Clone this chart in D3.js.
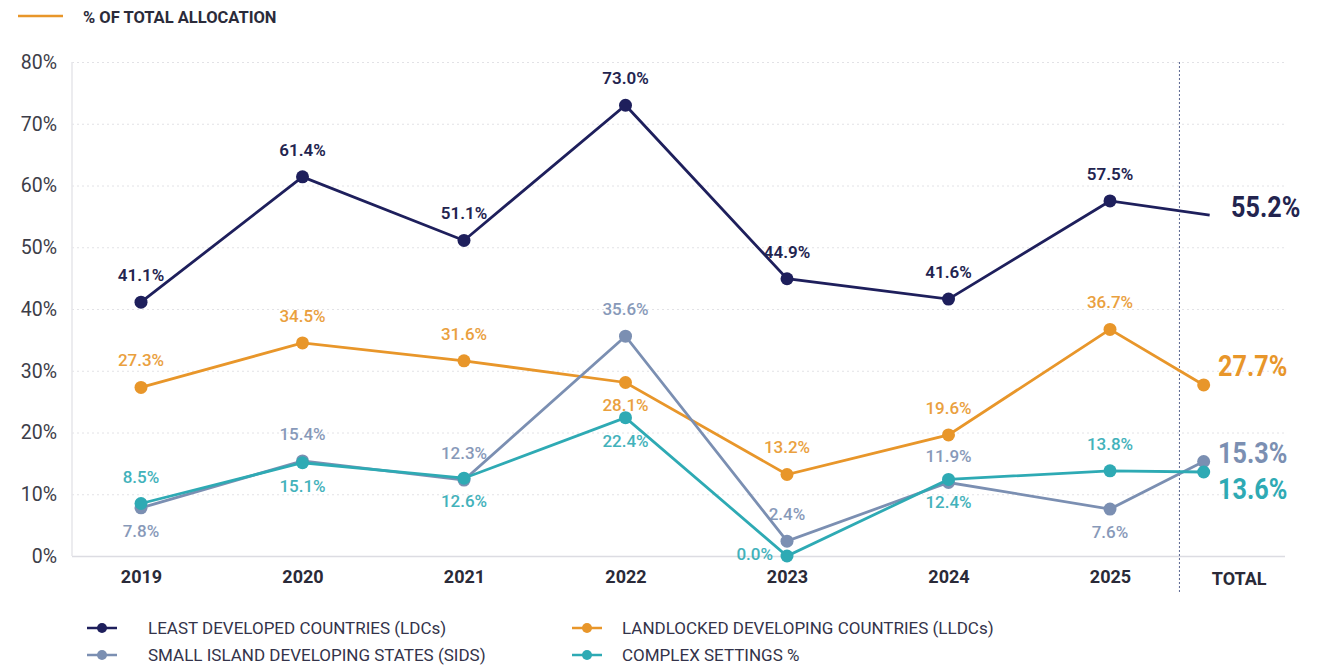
<!DOCTYPE html>
<html>
<head>
<meta charset="utf-8">
<script src="https://cdn.jsdelivr.net/npm/d3@7"></script>
<style>
  body { margin: 0; background: #fff; }
  svg { display: block; font-family: Roboto, "Noto Sans", sans-serif; }
</style>
</head>
<body>
<svg id="chart" width="1342" height="668"></svg>
<script>
const years = ['2019', '2020', '2021', '2022', '2023', '2024', '2025'];
const yTicks = [0, 10, 20, 30, 40, 50, 60, 70, 80];
const seriesNames = [
    'LEAST DEVELOPED COUNTRIES (LDCs)',
    'LANDLOCKED DEVELOPING COUNTRIES (LLDCs)',
    'SMALL ISLAND DEVELOPING STATES (SIDS)',
    'COMPLEX SETTINGS %',
];
const ldc = [41.1, 61.4, 51.1, 73.0, 44.9, 41.6, 57.5];
const lldc = [27.3, 34.5, 31.6, 28.1, 13.2, 19.6, 36.7];
const sids = [7.8, 15.4, 12.3, 35.6, 2.4, 11.9, 7.6];
const complex = [8.5, 15.1, 12.6, 22.4, 0.0, 12.4, 13.8];
const totals = [55.2, 27.7, 15.3, 13.6];

// where each value label sits relative to its point
const labelSide = [
    ['up', 'up', 'up', 'up', 'up', 'up', 'up'],
    ['up', 'up', 'up', 'down', 'up', 'up', 'up'],
    ['down', 'up', 'up', 'up', 'up', 'up', 'down'],
    ['up', 'down', 'down', 'down', 'left', 'down', 'up'],
];
const colors = ['#1e1f5c', '#e8962a', '#7b8fb2', '#2eaab4'];

const seriesValues = [ldc, lldc, sids, complex];

const svg = d3.select('#chart');
const margin = { left: 72, right: 1285, top: 62, bottom: 556 };

const x = d3.scalePoint().domain(years).range([141, 1110]);
const step = x.step();
const xTotalPoint = x('2025') + step * 0.58;
const xTotalLabel = x('2025') + step * 0.8;
const xDivider = x('2025') + step * 0.43;

const y = d3.scaleLinear().domain([0, 80]).range([margin.bottom, margin.top]);

// title / top legend
svg.append('line')
    .attr('x1', 18).attr('x2', 63).attr('y1', 16).attr('y2', 16)
    .attr('stroke', colors[1]).attr('stroke-width', 2.5);
svg.append('text')
    .attr('x', 83).attr('y', 23)
    .attr('font-size', 16.5).attr('font-weight', 700)
    .attr('fill', '#2b2b3a')
    .text('% OF TOTAL ALLOCATION');

// Y grid + labels
const yAxis = d3.axisLeft(y).tickValues(yTicks)
    .tickSize(-(margin.right - margin.left))
    .tickFormat((d) => d + '%')
    .tickPadding(15);
const yAxisGroup = svg.append('g')
    .attr('transform', `translate(${margin.left},0)`)
    .call(yAxis);
yAxisGroup.select('.domain').remove();
yAxisGroup.selectAll('line')
    .attr('stroke', (d) => (d === 0 ? '#dcdce2' : '#e2e2e6'))
    .attr('stroke-width', (d) => (d === 0 ? 1.5 : 1))
    .attr('stroke-dasharray', (d) => (d === 0 ? null : '2,3'));
yAxisGroup.selectAll('text')
    .attr('font-size', 19.5).attr('fill', '#3d3d48')
    .attr('font-family', 'Roboto, sans-serif');

// left axis line
svg.append('line')
    .attr('x1', margin.left).attr('x2', margin.left)
    .attr('y1', margin.top).attr('y2', margin.bottom)
    .attr('stroke', '#e6e6ea').attr('stroke-width', 1.5);

// X axis labels
const xAxis = d3.axisBottom(x).tickSize(0).tickPadding(14);
const xAxisGroup = svg.append('g')
    .attr('transform', `translate(0,${margin.bottom})`)
    .call(xAxis);
xAxisGroup.select('.domain').remove();
xAxisGroup.selectAll('text')
    .attr('font-size', 18).attr('font-weight', 700)
    .attr('fill', '#2a2a38')
    .attr('font-family', 'Roboto, sans-serif');
svg.append('text')
    .attr('x', xTotalLabel).attr('y', margin.bottom + 29)
    .attr('text-anchor', 'middle')
    .attr('font-size', 18).attr('font-weight', 700)
    .attr('fill', '#2a2a38')
    .text('TOTAL');

// divider before TOTAL
svg.append('line')
    .attr('x1', xDivider).attr('x2', xDivider)
    .attr('y1', margin.top).attr('y2', 592)
    .attr('stroke', '#5a6590').attr('stroke-width', 1)
    .attr('stroke-dasharray', '2,2');

// lines, points, value labels
const line = d3.line().x((d) => d.x).y((d) => y(d.v));

seriesValues.forEach((vals, si) => {
    const pts = vals.map((v, i) => ({ x: x(years[i]), v, side: labelSide[si][i] }));
    const withTotal = pts.concat([{ x: si === 0 ? xTotalPoint + 6 : xTotalPoint, v: totals[si] }]);
    svg.append('path')
        .attr('d', line(withTotal))
        .attr('fill', 'none')
        .attr('stroke', colors[si])
        .attr('stroke-width', 2.8);

    const dotPts = si === 0 ? pts : withTotal;
    svg.append('g').selectAll('circle')
        .data(dotPts)
        .join('circle')
        .attr('cx', (d) => d.x).attr('cy', (d) => y(d.v))
        .attr('r', 6.5)
        .attr('fill', colors[si]);

    svg.append('g').selectAll('text')
        .data(pts)
        .join('text')
        .attr('x', (d) => (d.side === 'left' ? d.x - 14 : d.x))
        .attr('y', (d) => {
            if (d.side === 'up') return y(d.v) - 21;
            if (d.side === 'down') return y(d.v) + 29;
            return y(d.v) + 4;
        })
        .attr('text-anchor', (d) => (d.side === 'left' ? 'end' : 'middle'))
        .attr('font-size', 17)
        .attr('font-weight', si === 0 ? 600 : 500)
        .attr('fill', si === 0 ? '#23244f' : colors[si])
        .attr('opacity', si === 0 ? 1 : 0.9)
        .text((d) => d3.format('.1f')(d.v) + '%');
});

// total labels (condensed look)
const totalLabelX = [1231, 1218, 1218, 1218];
const totalLabelY = [y(totals[0]) + 2, y(totals[1]) - 9, y(totals[2]) + 1.5, y(totals[3]) + 27];
totals.forEach((t, i) => {
    svg.append('text')
        .attr('transform', `translate(${totalLabelX[i]},${totalLabelY[i]}) scale(0.84,1)`)
        .attr('font-size', 30).attr('font-weight', 700)
        .attr('fill', i === 0 ? '#23244f' : colors[i])
        .text(d3.format('.1f')(t) + '%');
});

// bottom legend
const legend = svg.append('g');
const legendPos = [[87, 628], [572, 628], [87, 655], [572, 655]];
seriesNames.forEach((name, i) => {
    const [lx, ly] = legendPos[i];
    const g = legend.append('g').attr('transform', `translate(${lx},${ly})`);
    g.append('line').attr('x1', 0).attr('x2', 30).attr('y1', 0).attr('y2', 0)
        .attr('stroke', colors[i]).attr('stroke-width', 2.5);
    g.append('circle').attr('cx', 15).attr('cy', 0).attr('r', 5).attr('fill', colors[i]);
    g.append('text').attr('x', i % 2 === 0 ? 61 : 50).attr('y', 6)
        .attr('font-size', 17).attr('fill', '#33334a')
        .text(name);
});
</script>
</body>
</html>
